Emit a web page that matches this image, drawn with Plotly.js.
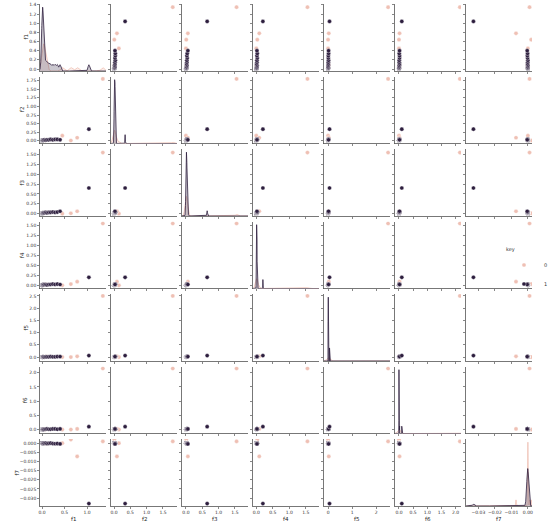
<!DOCTYPE html>
<html><head><meta charset="utf-8">
<script src="https://cdn.plot.ly/plotly-3.0.1.min.js"></script>
<style>html,body{margin:0;padding:0;background:#fff}#chart{width:553px;height:522px}</style>
</head><body><div id="chart"></div>
<script>
// ---- data ----
const variables = ['f1','f2','f3','f4','f5','f6','f7'];
const hueTitle = 'key';
const hueLevels = [0, 1];
// hue 0 (light) points
const f1_k0 = [0.01,0.02,0.02,0.03,0.03,0.04,0.05,0.06,0.08,0.10,0.45,0.64,0.78,1.35];
const f2_k0 = [0.00,0.01,0.00,0.01,0.02,0.01,0.02,0.02,0.03,0.02,0.15,0.01,0.09,1.80];
const f3_k0 = [0.00,0.01,0.00,0.01,0.01,0.02,0.01,0.02,0.02,0.03,0.00,0.01,0.06,1.55];
const f4_k0 = [0.00,0.00,0.01,0.00,0.01,0.01,0.02,0.01,0.02,0.02,0.00,0.03,0.09,1.55];
const f5_k0 = [0.00,0.00,0.00,0.01,0.00,0.01,0.00,0.01,0.01,0.02,0.00,0.00,0.03,2.50];
const f6_k0 = [0.00,0.00,0.01,0.00,0.00,0.01,0.01,0.00,0.01,0.01,0.00,0.00,0.02,2.15];
const f7_k0 = [0.0000,0.0000,0.0001,0.0000,-0.0001,0.0000,0.0001,0.0000,0.0000,-0.0001,0.0000,0.0020,-0.0072,0.0010];
// hue 1 (dark) points
const f1_k1 = [0.00,0.00,0.01,0.01,0.01,0.01,0.01,0.02,0.02,0.02,0.03,0.05,0.08,0.11,0.15,0.19,0.24,0.29,0.34,0.40,1.04];
const f2_k1 = [0.00,0.01,0.00,0.01,0.01,0.02,0.01,0.02,0.01,0.02,0.02,0.03,0.02,0.03,0.03,0.04,0.03,0.04,0.04,0.03,0.34];
const f3_k1 = [0.00,0.00,0.01,0.01,0.00,0.01,0.02,0.01,0.02,0.01,0.02,0.02,0.03,0.02,0.03,0.03,0.04,0.03,0.04,0.06,0.65];
const f4_k1 = [0.00,0.00,0.00,0.01,0.01,0.00,0.01,0.01,0.01,0.02,0.01,0.02,0.02,0.01,0.02,0.02,0.03,0.02,0.03,0.02,0.20];
const f5_k1 = [0.00,0.00,0.00,0.00,0.01,0.00,0.00,0.01,0.00,0.01,0.01,0.00,0.01,0.01,0.01,0.02,0.01,0.01,0.02,0.02,0.06];
const f6_k1 = [0.00,0.00,0.00,0.01,0.00,0.00,0.01,0.00,0.01,0.01,0.00,0.01,0.01,0.02,0.01,0.01,0.02,0.02,0.01,0.02,0.10];
const f7_k1 = [0.0000,0.0000,0.0000,-0.0001,0.0000,0.0000,-0.0001,0.0000,0.0000,-0.0002,0.0000,-0.0001,0.0000,-0.0002,-0.0001,0.0000,-0.0002,-0.0003,-0.0002,-0.0004,-0.0330];

const group0 = [f1_k0,f2_k0,f3_k0,f4_k0,f5_k0,f6_k0,f7_k0];
const group1 = [f1_k1,f2_k1,f3_k1,f4_k1,f5_k1,f6_k1,f7_k1];

// ---- styling ----
const colors = ['#efc0b4', '#2d1e3e'];
const fills = ['rgba(239,192,180,0.25)', 'rgba(45,30,62,0.25)'];
const xRanges = [[-0.045,1.42],[-0.092,1.93],[-0.12,1.9],[-0.1,1.9],[-0.17,2.58],[-0.14,2.19],[-0.0375,0.0025]];
const yRanges = [[-0.043,1.42],[-0.077,1.87],[-0.06,1.64],[-0.08,1.6],[-0.16,2.58],[-0.14,2.22],[-0.0343,0.0023]];
const xDticks = [0.5,0.5,0.5,0.5,1,0.5,0.01];
const yDticks = [0.2,0.25,0.25,0.25,0.5,0.5,0.005];
const xFormats = ['.1f','.1f','.1f','.1f','d','.1f','.2f'];
const yFormats = ['.1f','.2f','.2f','.2f','.1f','.1f','.3f'];
const yTitleX = [25, 22, 22, 22, 25, 25, 16];
const W = 553, H = 522;
const colLeft0 = 40, colStep = 71, colW = 66;
const rowTop0 = 4, rowStep = 72.5, rowH = 67;
const bwAdjust = 0.15;

function kde(vals, grid, N) {
  const n = vals.length;
  const mean = vals.reduce((a,b)=>a+b,0)/n;
  let sd = Math.sqrt(vals.reduce((a,v)=>a+(v-mean)*(v-mean),0)/(n-1));
  if (!(sd > 0)) sd = 1e-6;
  const bw = sd * Math.pow(n, -0.2) * bwAdjust;
  return grid.map(x => vals.reduce((s,v)=> s + Math.exp(-0.5*((x-v)/bw)*((x-v)/bw)), 0) / (N * bw * Math.sqrt(2*Math.PI)));
}

const traces = [];
const annotations = [];
const layout = {
  width: W, height: H,
  margin: {l:0, r:0, t:0, b:0},
  paper_bgcolor: '#fff', plot_bgcolor: '#fff',
  font: {family: 'DejaVu Sans', size: 5, color: '#333'},
  showlegend: true,
  legend: {x: 1, y: 1-244/H, xanchor: 'right', yanchor: 'top',
           title: {text: hueTitle, font: {size: 5}}, font: {size: 5},
           bgcolor: 'rgba(0,0,0,0)', borderwidth: 0, itemwidth: 30, tracegroupgap: 0},
  annotations: annotations
};
const common = {showline: true, linecolor: '#555', linewidth: 0.8, ticks: 'outside', ticklen: 2,
  tickwidth: 0.7, tickcolor: '#555', showgrid: false, zeroline: false, tickfont: {size: 4.5, color: '#333'},
  automargin: false};

const N = group0[0].length + group1[0].length;
for (let r = 0; r < 7; r++) {
  for (let c = 0; c < 7; c++) {
    const k = r*7 + c + 1;
    const xs = k === 1 ? '' : String(k);
    const L = colLeft0 + c*colStep, T = rowTop0 + r*rowStep;
    const xdom = [L/W, (L+colW)/W];
    const ydom = [1-(T+rowH)/H, 1-T/H];
    layout['xaxis'+xs] = Object.assign({}, common, {
      domain: xdom, anchor: 'y'+xs, range: xRanges[c], dtick: xDticks[c], tick0: 0,
      tickformat: xFormats[c], showticklabels: r === 6
    });
    layout['yaxis'+xs] = Object.assign({}, common, {
      domain: ydom, anchor: 'x'+xs, range: yRanges[r], dtick: yDticks[r], tick0: 0,
      tickformat: yFormats[r], showticklabels: c === 0
    });
    if (r === c) {
      // empty trace so the diagonal subplot is tied to data
      traces.push({type: 'scatter', mode: 'markers', x: [], y: [], xaxis: 'x'+xs, yaxis: 'y'+xs,
        showlegend: false, hoverinfo: 'skip'});
      // density curves on their own hidden axes, laid over the diagonal panel
      const oid = String(60 + r);
      const grid = [];
      const [a, b] = xRanges[c];
      for (let i = 0; i <= 800; i++) grid.push(a + (b-a)*i/800);
      const d0 = kde(group0[c], grid, N), d1 = kde(group1[c], grid, N);
      const mx = Math.max(...d0, ...d1);
      layout['xaxis'+oid] = {domain: xdom, anchor: 'y'+oid, range: xRanges[c], visible: false,
        showgrid: false, zeroline: false};
      layout['yaxis'+oid] = {domain: ydom, anchor: 'x'+oid, range: [0, mx*1.05], visible: false,
        showgrid: false, zeroline: false};
      [d0, d1].forEach((d, g) => traces.push({type: 'scatter', mode: 'lines', x: grid, y: d,
        xaxis: 'x'+oid, yaxis: 'y'+oid, fill: 'tozeroy', fillcolor: fills[g],
        line: {color: colors[g], width: 0.8}, showlegend: false, hoverinfo: 'skip'}));
    } else {
      [group0, group1].forEach((grp, g) => traces.push({type: 'scatter', mode: 'markers',
        x: grp[c], y: grp[r], xaxis: 'x'+xs, yaxis: 'y'+xs,
        marker: {color: colors[g], size: 4.2, line: {color: '#fff', width: 0.4}},
        name: String(hueLevels[g]), legendgroup: 'g'+g, showlegend: (r === 0 && c === 1)}));
    }
  }
  // axis titles
  annotations.push({text: variables[r], xref: 'paper', yref: 'paper', showarrow: false,
    x: yTitleX[r]/W, y: 1-(rowTop0 + r*rowStep + rowH/2)/H, textangle: -90,
    font: {size: 5.5, color: '#222'}, xanchor: 'center', yanchor: 'middle'});
  annotations.push({text: variables[r], xref: 'paper', yref: 'paper', showarrow: false,
    x: (colLeft0 + r*colStep + colW/2)/W, y: 1-519/H,
    font: {size: 5.5, color: '#222'}, xanchor: 'center', yanchor: 'middle'});
}
Plotly.newPlot('chart', traces, layout, {staticPlot: true, displayModeBar: false});
</script>
</body></html>
